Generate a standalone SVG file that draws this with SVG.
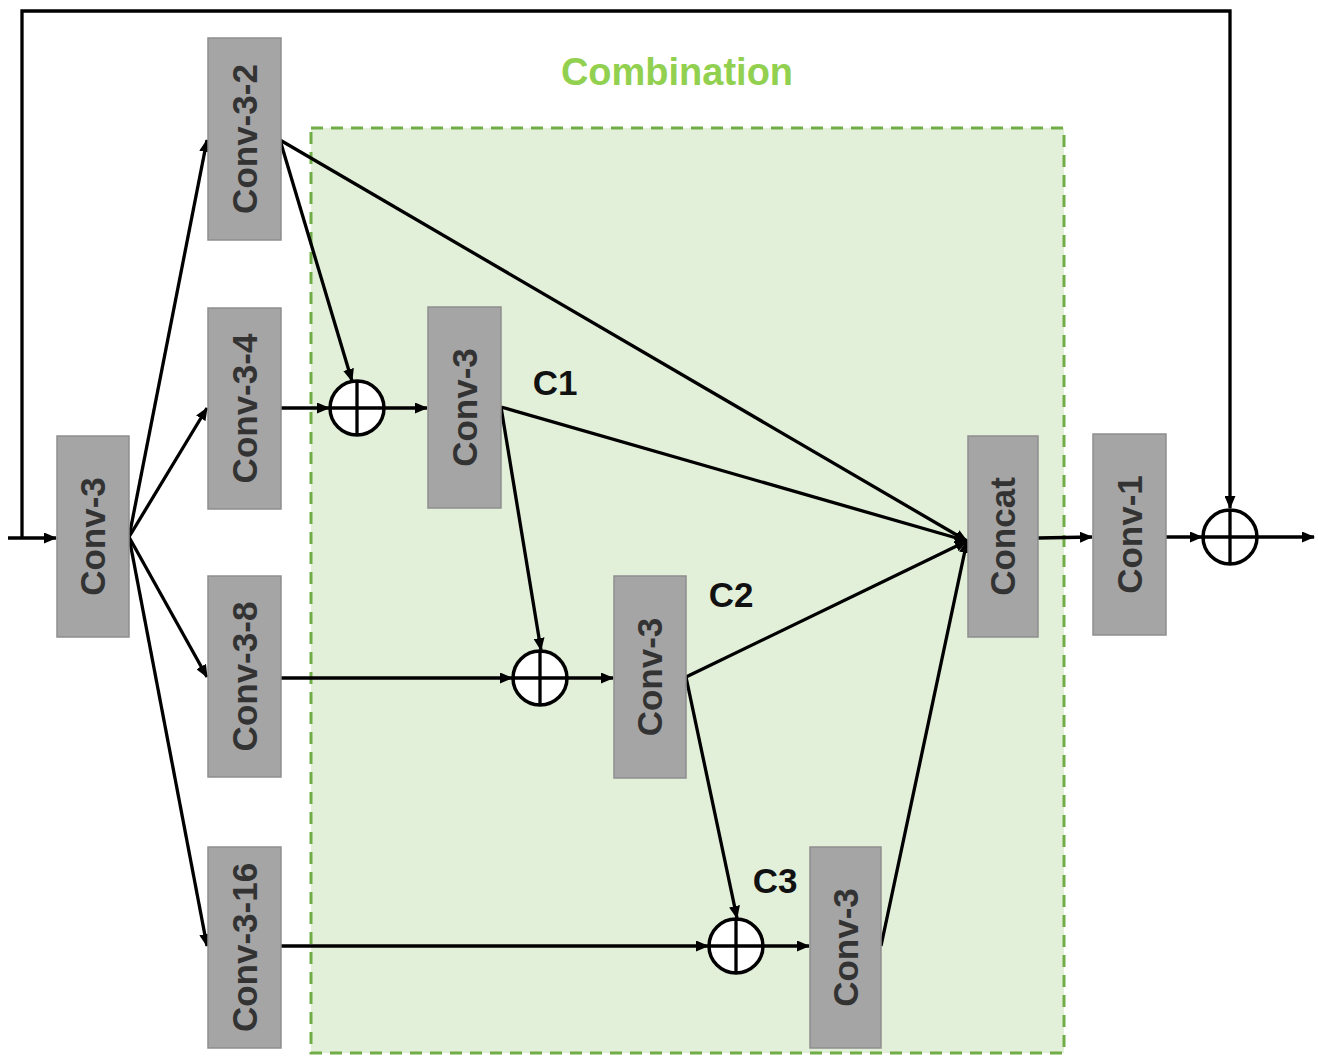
<svg xmlns="http://www.w3.org/2000/svg" width="1318" height="1057" viewBox="0 0 1318 1057">
<style>
.box{fill:#a5a5a5;stroke:#8e8e8e;stroke-width:1.5}
.lbl{font-family:"Liberation Sans",Arial,sans-serif;font-weight:bold;font-size:35px;fill:#333;text-anchor:middle}
.c{font-family:"Liberation Sans",Arial,sans-serif;font-weight:bold;font-size:35px;fill:#111;text-anchor:middle}
.ln{stroke:#000;stroke-width:3.3;fill:none}
.sum{fill:#fff;stroke:#000;stroke-width:3.5}
</style>
<defs>
<marker id="ah" markerWidth="13" markerHeight="11" refX="12" refY="5.5" orient="auto" markerUnits="userSpaceOnUse">
<path d="M0,0 L13,5.5 L0,11 Z" fill="#000"/>
</marker>
</defs>
<rect width="1318" height="1057" fill="#fff"/>
<g id="combination">
<rect x="311" y="128" width="753" height="925" fill="#e2efd9" stroke="#70ad47" stroke-width="3" stroke-dasharray="12,8"/>
<text x="677" y="85" font-family="Liberation Sans,Arial,sans-serif" font-weight="bold" font-size="38" fill="#92d050" text-anchor="middle">Combination</text>
</g>
<g id="connectors">
<path class="ln" d="M8,538 L56,538" marker-end="url(#ah)"/>
<path class="ln" d="M22,538 L22,11 L1230,11 L1230,508" marker-end="url(#ah)"/>
<path class="ln" d="M129,537 L207,140" marker-end="url(#ah)"/>
<path class="ln" d="M129,537 L207,408" marker-end="url(#ah)"/>
<path class="ln" d="M129,537 L207,677" marker-end="url(#ah)"/>
<path class="ln" d="M129,537 L207,946" marker-end="url(#ah)"/>
<path class="ln" d="M280,140 L352,381" marker-end="url(#ah)"/>
<path class="ln" d="M280,140 L967,541" marker-end="url(#ah)"/>
<path class="ln" d="M281,408 L329,408" marker-end="url(#ah)"/>
<path class="ln" d="M385,408 L427,408" marker-end="url(#ah)"/>
<path class="ln" d="M501,407 L967,541" marker-end="url(#ah)"/>
<path class="ln" d="M501,407 L541,650" marker-end="url(#ah)"/>
<path class="ln" d="M281,678 L512,678" marker-end="url(#ah)"/>
<path class="ln" d="M568,678 L613,678" marker-end="url(#ah)"/>
<path class="ln" d="M686,677 L967,541" marker-end="url(#ah)"/>
<path class="ln" d="M686,677 L737,918" marker-end="url(#ah)"/>
<path class="ln" d="M281,946 L708,946" marker-end="url(#ah)"/>
<path class="ln" d="M764,946 L809,946" marker-end="url(#ah)"/>
<path class="ln" d="M881,946 L967,541" marker-end="url(#ah)"/>
<path class="ln" d="M1038,538 L1092,537" marker-end="url(#ah)"/>
<path class="ln" d="M1166,537 L1202,537" marker-end="url(#ah)"/>
<path class="ln" d="M1258,537 L1314,537" marker-end="url(#ah)"/>
</g>
<g id="conv3-in"><rect class="box" x="57" y="436" width="72" height="201"/><text class="lbl" transform="translate(93,536.5) rotate(-90)" dy="12">Conv-3</text></g>
<g id="conv3-2"><rect class="box" x="208" y="38" width="73" height="202"/><text class="lbl" transform="translate(244.5,139) rotate(-90)" dy="12">Conv-3-2</text></g>
<g id="conv3-4"><rect class="box" x="208" y="308" width="73" height="201"/><text class="lbl" transform="translate(244.5,408.5) rotate(-90)" dy="12">Conv-3-4</text></g>
<g id="conv3-8"><rect class="box" x="208" y="576" width="73" height="201"/><text class="lbl" transform="translate(244.5,676.5) rotate(-90)" dy="12">Conv-3-8</text></g>
<g id="conv3-16"><rect class="box" x="208" y="847" width="73" height="201"/><text class="lbl" transform="translate(244.5,947.5) rotate(-90)" dy="12">Conv-3-16</text></g>
<g id="conv3-c1"><rect class="box" x="428" y="307" width="73" height="201"/><text class="lbl" transform="translate(464.5,407.5) rotate(-90)" dy="12">Conv-3</text></g>
<g id="conv3-c2"><rect class="box" x="614" y="576" width="72" height="202"/><text class="lbl" transform="translate(650,677) rotate(-90)" dy="12">Conv-3</text></g>
<g id="conv3-c3"><rect class="box" x="810" y="847" width="71" height="201"/><text class="lbl" transform="translate(845.5,947.5) rotate(-90)" dy="12">Conv-3</text></g>
<g id="concat"><rect class="box" x="968" y="436" width="70" height="201"/><text class="lbl" transform="translate(1003,536.5) rotate(-90)" dy="12">Concat</text></g>
<g id="conv1"><rect class="box" x="1093" y="434" width="73" height="201"/><text class="lbl" transform="translate(1129.5,534.5) rotate(-90)" dy="12">Conv-1</text></g>
<g id="sum1"><circle class="sum" cx="357" cy="408" r="27"/><path class="ln" d="M330,408 H384 M357,381 V435"/></g>
<g id="sum2"><circle class="sum" cx="540" cy="678" r="27"/><path class="ln" d="M513,678 H567 M540,651 V705"/></g>
<g id="sum3"><circle class="sum" cx="736" cy="946" r="27"/><path class="ln" d="M709,946 H763 M736,919 V973"/></g>
<g id="sum4"><circle class="sum" cx="1230" cy="537" r="27"/><path class="ln" d="M1203,537 H1257 M1230,510 V564"/></g>
<g id="labels">
<text class="c" x="555" y="395">C1</text>
<text class="c" x="731" y="607">C2</text>
<text class="c" x="775" y="893">C3</text>
</g>
</svg>
